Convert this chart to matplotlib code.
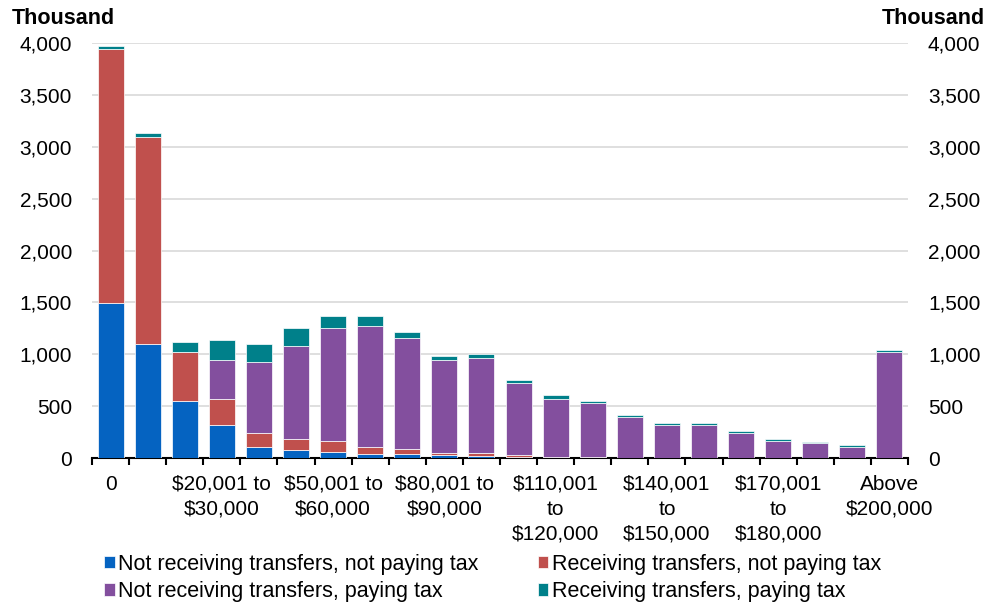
import numpy as np
import matplotlib.pyplot as plt

plt.rcParams['font.family'] = ['Liberation Sans', 'DejaVu Sans']

# income bands ($) - only every third band is labelled on the chart
bands = ["0", "$1 to\n$10,000", "$10,001 to\n$20,000", "$20,001 to\n$30,000",
         "$30,001 to\n$40,000", "$40,001 to\n$50,000", "$50,001 to\n$60,000",
         "$60,001 to\n$70,000", "$70,001 to\n$80,000", "$80,001 to\n$90,000",
         "$90,001 to\n$100,000", "$100,001\nto\n$110,000", "$110,001\nto\n$120,000",
         "$120,001\nto\n$130,000", "$130,001\nto\n$140,000", "$140,001\nto\n$150,000",
         "$150,001\nto\n$160,000", "$160,001\nto\n$170,000", "$170,001\nto\n$180,000",
         "$180,001\nto\n$190,000", "$190,001\nto\n$200,000", "Above\n$200,000"]
shown = [0, 3, 6, 9, 12, 15, 18, 21]

# thousands of people
no_transfer_no_tax = [1498, 1099, 547, 315, 103, 80, 61, 41, 41, 29, 22, 12, 4, 3, 2, 2, 2, 1, 1, 1, 1, 1]
transfer_no_tax = [2449, 1994, 475, 254, 135, 100, 100, 65, 43, 19, 23, 17, 4, 3, 2, 2, 2, 1, 1, 1, 1, 1]
no_transfer_tax = [0, 0, 0, 376, 688, 897, 1090, 1164, 1070, 897, 919, 691, 560, 521, 388, 312, 312, 236, 159, 138, 100, 1020]
transfer_tax = [26, 38, 97, 193, 173, 174, 118, 99, 61, 39, 39, 32, 35, 20, 19, 19, 19, 22, 22, 19, 19, 19]

series = [
    ("Not receiving transfers, not paying tax", no_transfer_no_tax, "#0563C1"),
    ("Receiving transfers, not paying tax", transfer_no_tax, "#C0504D"),
    ("Not receiving transfers, paying tax", no_transfer_tax, "#834F9E"),
    ("Receiving transfers, paying tax", transfer_tax, "#00808A"),
]

fig = plt.figure(figsize=(9.87, 6.02), dpi=100)
ax = fig.add_axes([92/987, 1-458/602, (908-92)/987, (458-43.3)/602])

x = np.arange(len(bands))
bottom = np.zeros(len(bands))
handles = []
for name, vals, col in series:
    b = ax.bar(x, vals, 0.7, bottom=bottom, color=col, edgecolor='white',
               linewidth=0.5, label=name, zorder=3)
    bottom += np.array(vals)
    handles.append(b)

ax.set_xlim(-0.5, len(bands) - 0.5)
ax.set_ylim(0, 4000)
ax.set_yticks(np.arange(0, 4001, 500))
ax.yaxis.set_major_formatter(plt.FuncFormatter(lambda v, p: f"{int(v):,}"))
ax.grid(axis='y', color='#d9d9d9', linewidth=1.2, zorder=0)
for s in ['top', 'left', 'right']:
    ax.spines[s].set_visible(False)
ax.spines['bottom'].set_linewidth(1.5)

ax.set_xticks(x[shown])
ax.set_xticklabels([bands[i] for i in shown], fontsize=15, linespacing=1.4)
ax.set_xticks(np.arange(-0.5, len(bands), 1), minor=True)
ax.tick_params(axis='x', which='major', length=0, pad=12)
ax.tick_params(axis='x', which='minor', length=5, width=1.5, direction='out')
ax.tick_params(axis='y', length=0, labelsize=15, pad=14.4, labelright=True)

fig.text(12/987, 1-18/602, "Thousand", fontsize=15.5, fontweight='bold', va='center', ha='left')
fig.text(985/987, 1-18/602, "Thousand", fontsize=15.5, fontweight='bold', va='center', ha='right')

# legend is filled row by row in the reference
order = [0, 2, 1, 3]
fig.legend(handles=[handles[i] for i in order], loc='upper left',
           bbox_to_anchor=(104/987, 1-554/602), ncol=2,
           frameon=False, fontsize=15.5, handlelength=0.5, handleheight=0.5, handletextpad=0.15,
           columnspacing=2.75, labelspacing=0.28, borderaxespad=0, borderpad=0)

fig.savefig("out.png", dpi=100)
